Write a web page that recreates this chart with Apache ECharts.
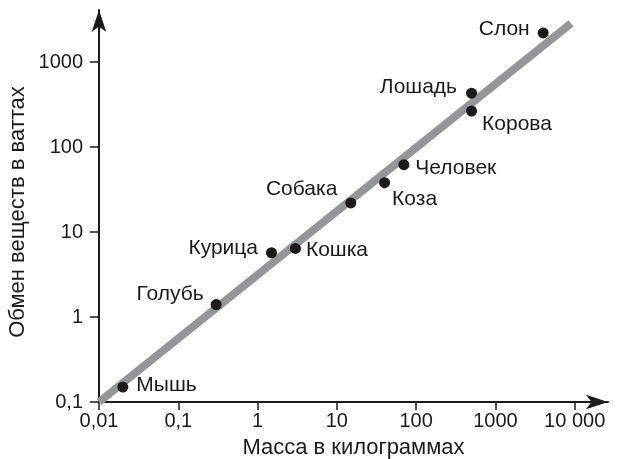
<!DOCTYPE html>
<html><head><meta charset="utf-8">
<script src="https://cdn.jsdelivr.net/npm/echarts@6/dist/echarts.min.js"></script>
<style>html,body{margin:0;padding:0;background:#fff}#c{width:619px;height:459px}</style>
</head><body><div id="c"></div>
<script>
// ---- data ----
const animals  = ['Мышь','Голубь','Курица','Кошка','Собака','Коза','Человек','Лошадь','Корова','Слон'];
const massKg   = [0.02, 0.3, 1.5, 3, 15, 40, 70, 500, 500, 4000];
const powerW   = [0.15, 1.4, 5.7, 6.4, 22, 38, 62, 430, 265, 2200];
const trendMass  = [0.01, 9000];
const trendPower = [0.1, 2850];
const xTickValues = [0.01, 0.1, 1, 10, 100, 1000, 10000];
const xTickLabels = ['0,01', '0,1', '1', '10', '100', '1000', '10 000'];
const yTickValues = [0.1, 1, 10, 100, 1000];
const yTickLabels = ['0,1', '1', '10', '100', '1000'];
const xAxisTitle = 'Масса в килограммах';
const yAxisTitle = 'Обмен веществ в ваттах';

// ---- layout (label placement per point) ----
const labelLayout = {
  'Мышь':    {position: 'right', distance: 8, offset: [0, -2]},
  'Голубь':  {position: 'left',  distance: 7, offset: [0, -10]},
  'Курица':  {position: 'left',  distance: 8, offset: [0, -5]},
  'Кошка':   {position: 'right', distance: 5, offset: [0, 2]},
  'Собака':  {position: 'left',  distance: 8, offset: [0, -14]},
  'Коза':    {position: 'right', distance: 2, offset: [0, 16]},
  'Человек': {position: 'right', distance: 6, offset: [0, 4]},
  'Лошадь':  {position: 'left',  distance: 9, offset: [0, -6]},
  'Корова':  {position: 'right', distance: 5, offset: [0, 13]},
  'Слон':    {position: 'left',  distance: 8, offset: [0, -4]}
};

const INK = '#1c1a1b';
const FONT = '"Liberation Sans", Arial, Helvetica, sans-serif';

function fmt(values, labels) {
  return function (v) {
    for (let i = 0; i < values.length; i++) {
      if (Math.abs(Math.log10(v) - Math.log10(values[i])) < 1e-6) return labels[i];
    }
    return '';
  };
}

const scatterData = animals.map(function (name, i) {
  const l = labelLayout[name];
  return {
    name: name,
    value: [massKg[i], powerW[i]],
    label: {show: true, formatter: name, position: l.position, distance: l.distance, offset: l.offset}
  };
});

const chart = echarts.init(document.getElementById('c'), null, {renderer: 'canvas'});
chart.setOption({
  animation: false,
  backgroundColor: '#ffffff',
  textStyle: {fontFamily: FONT},
  grid: {left: 99, right: 11, top: 10, bottom: 57, containLabel: false, outerBoundsMode: 'none'},
  xAxis: {
    type: 'log', logBase: 10, min: 0.01, max: 26300,
    axisLine: {show: true, lineStyle: {color: INK, width: 2}, symbol: ['none', 'arrow'], symbolSize: [11, 22]},
    axisTick: {show: true, inside: false, length: 8, lineStyle: {color: INK, width: 1.5}, customValues: xTickValues},
    axisLabel: {customValues: xTickValues, formatter: fmt(xTickValues, xTickLabels), margin: 9,
                fontSize: 20, color: INK, fontFamily: FONT},
    splitLine: {show: false}, minorTick: {show: false},
    name: xAxisTitle, nameLocation: 'middle', nameGap: 35, nameMoveOverlap: false,
    nameTextStyle: {fontSize: 22, color: INK, fontFamily: FONT}
  },
  yAxis: {
    type: 'log', logBase: 10, min: 0.1, max: 4093,
    axisLine: {show: true, lineStyle: {color: INK, width: 2}, symbol: ['none', 'arrow'], symbolSize: [11, 22]},
    axisTick: {show: true, inside: false, length: 9, lineStyle: {color: INK, width: 1.5}, customValues: yTickValues},
    axisLabel: {customValues: yTickValues, formatter: fmt(yTickValues, yTickLabels), margin: 16,
                fontSize: 20, color: INK, fontFamily: FONT},
    splitLine: {show: false}, minorTick: {show: false},
    name: yAxisTitle, nameLocation: 'middle', nameGap: 70, nameMoveOverlap: false,
    nameTextStyle: {fontSize: 22, color: INK, fontFamily: FONT, padding: [0, 12, 0, 0]}
  },
  series: [
    {
      type: 'line',
      data: trendMass.map(function (m, i) { return [m, trendPower[i]]; }),
      showSymbol: false, symbol: 'none', clip: false,
      lineStyle: {color: '#939598', width: 8, cap: 'butt'},
      z: 1, silent: true
    },
    {
      type: 'scatter',
      data: scatterData,
      symbol: 'circle', symbolSize: 11,
      itemStyle: {color: INK, opacity: 1},
      label: {fontSize: 21, color: INK, fontFamily: FONT},
      z: 3, silent: true
    }
  ]
});
</script>
</body></html>
